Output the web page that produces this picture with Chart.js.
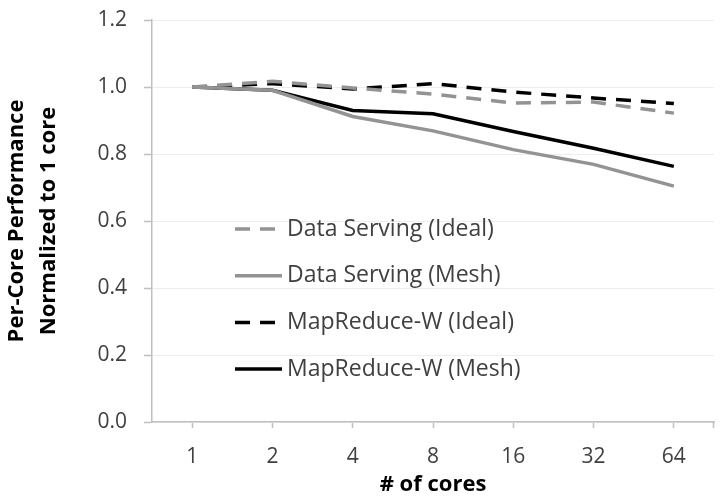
<!DOCTYPE html>
<html>
<head>
<meta charset="utf-8">
<script src="https://cdn.jsdelivr.net/npm/chart.js@4"></script>
<style>
  html, body { margin: 0; padding: 0; background: #fff; }
  #wrap { width: 721px; height: 497px; }
</style>
</head>
<body>
<div id="wrap"><canvas id="perCoreChart"></canvas></div>
<script>
const coreCounts = ['1', '2', '4', '8', '16', '32', '64'];
const dataServingIdeal = [1.0, 1.017, 0.997, 0.979, 0.952, 0.955, 0.922];
const dataServingMesh = [1.0, 0.99, 0.912, 0.869, 0.813, 0.769, 0.704];
const mapReduceIdeal = [1.0, 1.01, 0.994, 1.01, 0.985, 0.967, 0.951];
const mapReduceMesh = [1.0, 0.99, 0.93, 0.92, 0.867, 0.817, 0.763];

const GRAY = '#939393';
const BLACK = '#000000';
const AXIS = '#bfbfbf';
const TEXT = '#404040';
const FONT = 'Open Sans';

// legend sits inside the plot, Excel style
const insideLegend = {
  id: 'insideLegend',
  afterDatasetsDraw(chart) {
    const ctx = chart.ctx;
    const x0 = 235, lineLen = 47, rowGap = 46.7, y0 = 229;
    ctx.save();
    chart.data.datasets.forEach((ds, i) => {
      const y = y0 + i * rowGap;
      ctx.strokeStyle = ds.borderColor;
      ctx.lineWidth = ds.borderWidth;
      ctx.setLineDash(ds.borderDash || []);
      ctx.beginPath();
      ctx.moveTo(x0, y);
      ctx.lineTo(x0 + lineLen, y);
      ctx.stroke();
      ctx.setLineDash([]);
      ctx.fillStyle = TEXT;
      ctx.font = `23px "${FONT}"`;
      ctx.textBaseline = 'middle';
      ctx.fillText(ds.label, x0 + lineLen + 5, y);
    });
    // closing tick at right end of x axis
    const area = chart.chartArea;
    ctx.strokeStyle = AXIS;
    ctx.lineWidth = 1.5;
    ctx.beginPath();
    ctx.moveTo(area.right - 0.5, area.bottom);
    ctx.lineTo(area.right - 0.5, area.bottom + 6);
    ctx.stroke();
    ctx.restore();
  }
};

new Chart(document.getElementById('perCoreChart'), {
  type: 'line',
  data: {
    labels: coreCounts,
    datasets: [
      { label: 'Data Serving (Ideal)', data: dataServingIdeal, borderColor: GRAY, borderWidth: 3.5, borderDash: [15, 10] },
      { label: 'Data Serving (Mesh)', data: dataServingMesh, borderColor: GRAY, borderWidth: 3.5 },
      { label: 'MapReduce-W (Ideal)', data: mapReduceIdeal, borderColor: BLACK, borderWidth: 3.5, borderDash: [15, 10] },
      { label: 'MapReduce-W (Mesh)', data: mapReduceMesh, borderColor: BLACK, borderWidth: 3.5 },
    ],
  },
  options: {
    responsive: true,
    maintainAspectRatio: false,
    animation: false,
    events: [],
    elements: { point: { radius: 0 }, line: { tension: 0, borderCapStyle: 'butt' } },
    layout: { padding: { top: 20, right: 7, left: 0, bottom: 0 } },
    plugins: { legend: { display: false }, tooltip: { enabled: false } },
    scales: {
      x: {
        offset: true,
        afterFit(scale) { scale.height = 75; scale.paddingLeft = 0; scale.paddingRight = 0; },
        grid: { offset: false, drawOnChartArea: false, tickLength: 6, tickColor: AXIS, tickWidth: 1.5 },
        border: { color: AXIS, width: 1.5 },
        ticks: { color: TEXT, font: { family: FONT, size: 21 }, padding: 16, maxRotation: 0 },
        title: {
          display: true, text: '# of cores', color: BLACK,
          font: { family: FONT, size: 22, weight: 'bold', lineHeight: 1.1 },
          padding: { top: 0, bottom: 0 },
        },
      },
      y: {
        min: 0, max: 1.2,
        afterFit(scale) { scale.width = 152; scale.paddingTop = 0; scale.paddingBottom = 0; },
        grid: { color: '#ededed', lineWidth: 1, tickLength: 8, tickColor: AXIS, tickWidth: 1.5 },
        border: { color: AXIS, width: 1.5 },
        ticks: {
          stepSize: 0.2, color: TEXT, font: { family: FONT, size: 21 }, padding: 17,
          callback: v => v.toFixed(1),
        },
        title: {
          display: true, text: ['Per-Core Performance', 'Normalized to 1 core'], color: BLACK,
          font: { family: FONT, size: 22, weight: 'bold', lineHeight: 1.45 },
          padding: { top: 1, bottom: 0 },
        },
      },
    },
  },
  plugins: [insideLegend],
});
</script>
</body>
</html>
